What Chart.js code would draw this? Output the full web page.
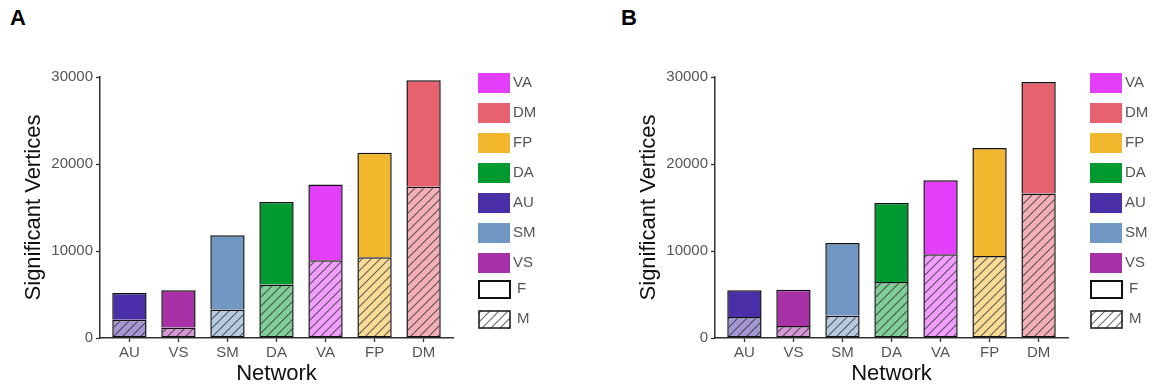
<!DOCTYPE html>
<html>
<head>
<meta charset="utf-8">
<script src="https://cdn.jsdelivr.net/npm/chart.js@4.4.1/dist/chart.umd.min.js"></script>
<style>
body { margin:0; background:#fff; width:1153px; height:385px; overflow:hidden; position:relative; font-family:'Liberation Sans', Arial, sans-serif; }
.panel { position:absolute; top:0; }
.tag { position:absolute; top:7px; font-size:22px; font-weight:bold; line-height:22px; color:#000; }
</style>
</head>
<body>
<div class="tag" style="left:10px">A</div>
<div class="tag" style="left:621px">B</div>
<canvas id="chartA" class="panel" style="left:0" width="615" height="385"></canvas>
<canvas id="chartB" class="panel" style="left:615px" width="538" height="385"></canvas>
<script>
// networks along the x axis
const networks = ['AU', 'VS', 'SM', 'DA', 'VA', 'FP', 'DM'];
// colour of each network (F solid, M lighter + hatched)
const networkColors = ['#4b2fa8', '#a931a8', '#7198c3', '#009b30', '#e33ffa', '#f3b72e', '#e7626f'];
// panel A values
const maleA = [2100, 1200, 3270, 6140, 8940, 9290, 17380];
const femaleA = [3080, 4290, 8550, 9480, 8710, 12000, 12240];
// panel B values
const maleB = [2410, 1380, 2570, 6440, 9620, 9430, 16600];
const femaleB = [3070, 4180, 8350, 9080, 8510, 12410, 12830];
// legend order
const legendNetworks = ['VA', 'DM', 'FP', 'DA', 'AU', 'SM', 'VS'];
const yTicks = [0, 10000, 20000, 30000];

Chart.defaults.font.family = "'Liberation Sans', Arial, sans-serif";

// mix a colour half way to white
function lighten(hex){
    var r = parseInt(hex.substr(1, 2), 16);
    var g = parseInt(hex.substr(3, 2), 16);
    var b = parseInt(hex.substr(5, 2), 16);
    return 'rgb(' + Math.round((r + 255) / 2) + ',' + Math.round((g + 255) / 2) + ',' + Math.round((b + 255) / 2) + ')';
}

// diagonal hatch pattern on a background colour
function hatch(bg, lineColor){
    var c = document.createElement('canvas');
    c.width = 9;
    c.height = 9;
    var g = c.getContext('2d');
    g.fillStyle = bg;
    g.fillRect(0, 0, 9, 9);
    g.strokeStyle = lineColor || 'rgba(40,40,40,0.7)';
    g.lineWidth = 1.1;
    g.beginPath();
    g.moveTo(0, 9); g.lineTo(9, 0);
    g.moveTo(-1, 1); g.lineTo(1, -1);
    g.moveTo(8, 10); g.lineTo(10, 8);
    g.stroke();
    return g.createPattern(c, 'repeat');
}

// legend at the right side of each panel
const sideLegend = {
    id: 'sideLegend',
    afterDraw(chart, args, opts){
        var ctx = chart.ctx;
        var x = opts.left;
        var y = opts.top;
        ctx.save();
        ctx.font = "15px 'Liberation Sans', Arial, sans-serif";
        ctx.textBaseline = 'middle';
        legendNetworks.forEach(function(name){
            ctx.fillStyle = networkColors[networks.indexOf(name)];
            ctx.fillRect(x, y, 32, 20);
            ctx.fillStyle = '#555';
            ctx.fillText(name, x + 35, y + 10);
            y += 30;
        });
        // F key
        y -= 3;
        ctx.fillStyle = '#fff';
        ctx.fillRect(x, y, 33, 19);
        ctx.strokeStyle = '#111';
        ctx.lineWidth = 2;
        ctx.strokeRect(x + 1, y + 1, 31, 17);
        ctx.fillStyle = '#555';
        ctx.fillText('F', x + 39, y + 9);
        // M key
        y += 30;
        ctx.fillStyle = hatch('#fff', 'rgba(70,70,70,0.8)');
        ctx.fillRect(x, y, 33, 19);
        ctx.strokeStyle = '#222';
        ctx.lineWidth = 1.6;
        ctx.strokeRect(x + 1, y + 1, 31, 17);
        ctx.fillStyle = '#555';
        ctx.fillText('M', x + 39, y + 9);
        ctx.restore();
    }
};

function makeChart(id, male, female, canvasWidth, legendLeft){
    var points = function(arr){
        return arr.map(function(v, i){ return { x: i + 1, y: v }; });
    };
    return new Chart(document.getElementById(id), {
        type: 'bar',
        data: {
            datasets: [{
                label: 'M',
                data: points(male),
                backgroundColor: networkColors.map(function(c){ return hatch(lighten(c)); }),
                borderColor: '#111',
                borderWidth: 1.5,
                borderSkipped: false,
                inflateAmount: 0
            }, {
                label: 'F',
                data: points(female),
                backgroundColor: networkColors,
                borderColor: '#111',
                borderWidth: 1.5,
                // bottom edge is the top edge of the M segment
                borderSkipped: 'start',
                inflateAmount: 0
            }]
        },
        options: {
            responsive: false,
            animation: false,
            categoryPercentage: 1,
            barPercentage: 0.7,
            layout: { padding: { left: 0, right: canvasWidth - 453, top: 77, bottom: 0 } },
            plugins: {
                legend: { display: false },
                tooltip: { enabled: false },
                sideLegend: { left: legendLeft, top: 73 }
            },
            scales: {
                x: {
                    type: 'linear',
                    stacked: true,
                    min: 0.4,
                    max: 7.6,
                    offset: false,
                    afterBuildTicks: function(s){
                        s.ticks = networks.map(function(n, i){ return { value: i + 1 }; });
                    },
                    afterFit: function(s){ s.height = 47; },
                    ticks: {
                        callback: function(v){ return networks[v - 1]; },
                        color: '#555',
                        font: { size: 15 },
                        padding: 2,
                        autoSkip: false,
                        maxRotation: 0
                    },
                    grid: { drawOnChartArea: false, offset: false, tickLength: 4, tickColor: '#333', tickWidth: 1.3 },
                    border: { color: '#333', width: 1.5 },
                    title: { display: true, text: 'Network', color: '#111', font: { size: 22, lineHeight: 1 }, padding: 0 }
                },
                y: {
                    stacked: true,
                    min: 0,
                    max: 30000,
                    afterBuildTicks: function(s){
                        s.ticks = yTicks.map(function(v){ return { value: v }; });
                    },
                    afterFit: function(s){ s.width = 100; },
                    ticks: {
                        callback: function(v){ return String(v); },
                        color: '#555',
                        font: { size: 15 },
                        padding: 3
                    },
                    grid: { drawOnChartArea: false, tickLength: 4, tickColor: '#333', tickWidth: 1.3 },
                    border: { color: '#333', width: 1.5 },
                    title: { display: true, text: 'Significant Vertices', color: '#111', font: { size: 22, lineHeight: 1 }, padding: { top: 23, bottom: 0 } }
                }
            }
        },
        plugins: [sideLegend]
    });
}

makeChart('chartA', maleA, femaleA, 615, 478);
makeChart('chartB', maleB, femaleB, 538, 475);
</script>
</body>
</html>
